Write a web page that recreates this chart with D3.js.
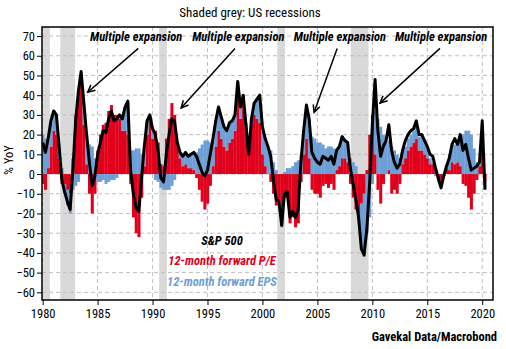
<!DOCTYPE html>
<html>
<head>
<meta charset="utf-8">
<script src="https://cdn.jsdelivr.net/npm/d3@7"></script>
<style>
  body { margin: 0; background: #fff; }
  text { font-family: "Liberation Sans Narrow", "Roboto Condensed", "Lato", sans-serif; }
</style>
</head>
<body>
<div id="chart"></div>
<script>
// quarterly readings, first value is Q1 1980
var startYear = 1980;

// S&P 500, % YoY
var sp500 = [
  16, 11, 18, 27,   32, 30, 14, -3,   -9, -14, -18, 2,   27, 42, 52, 36,
  20, 6, -6, -1,    10, 16, 22, 21,   28, 32, 27, 28,    30, 28, 34, 37,
  2, -10, -17, -19, -2, 14, 27, 30,   23, 20, 12, -2,    -4, 10, 20, 28,
  27, 16, 11, 9,    11, 9, 10, 11,    9, 5, 1, -1,       2, 10, 18, 27,
  34, 29, 24, 22,   26, 27, 30, 47,   34, 40, 25, 10,    28, 36, 38, 40,
  24, 18, 14, 9,    -3, -13, -14, -26, -10, -9, -22, -19, -22, -18, 6, 22,
  35, 28, 11, 8,    6, 5, 9, 8,       7, 9, 5, 12,       14, 19, 17, 16,
  3, -5, -13, -22,  -38, -41, -28, -5, 25, 48, 22, 9,    14, 17, 25, 12,
  6, 3, 5, 12,      17, 20, 22, 23,   27, 20, 20, 17,    14, 10, 9, 3,
  -2, -7, -1, 4,    8, 15, 18, 15,    20, 12, 15, 8,     2, 3, 4, 6,
  27, -8
];

// 12-month forward P/E, contribution in % YoY
var peContrib = [
  -5, -8, 3, 14,    22, 20, 8, -5,    -5, -8, -10, 8,    30, 42, 46, 25,
  5, -10, -20, -10, 12, 20, 25, 26,   32, 35, 30, 30,    28, 22, 22, 20,
  -5, -22, -30, -32, -12, 4, 20, 27,  18, 22, 16, 5,     4, 18, 28, 36,
  30, 16, 8, 4,     5, 3, 3, 2,       -2, -8, -14, -18,  -15, -6, 4, 14,
  22, 18, 14, 12,   16, 18, 22, 38,   28, 36, 24, 10,    26, 30, 28, 26,
  10, 4, 0, -4,     -10, -16, -14, -25, -12, -12, -25, -22, -27, -25, -4, 10,
  18, 8, -8, -10,   -10, -12, -6, -5, -7, -5, -8, 2,     4, 8, 8, 6,
  -5, -12, -18, -22, -15, -10, 2, 20, 30, 10, -8, -15,   -5, 0, 2, -10,
  -8, -10, -5, 5,   8, 12, 14, 16,    18, 12, 12, 10,    8, 5, 5, 2,
  -2, -3, 0, 3,     2, 6, 5, 6,       4, -5, -6, -12,    -18, -10, -3, 4,
  18, -4
];

// 12-month forward EPS, contribution in % YoY
var epsContrib = [
  20, 18, 14, 12,   10, 8, 6, 3,      -5, -8, -10, -8,   -6, -4, 5, 10,
  15, 15, 14, 8,    -4, -4, -3, -5,   -4, -3, -3, -2,    2, 6, 12, 16,
  12, 12, 13, 13,   10, 10, 7, 3,     3, -3, -4, -7,     -8, -8, -8, -6,
  -3, 0, 3, 5,      6, 6, 7, 9,       11, 13, 15, 17,    17, 16, 14, 13,
  12, 11, 10, 10,   10, 9, 8, 8,      6, 4, 2, 0,        2, 6, 10, 14,
  14, 14, 14, 12,   6, 2, -1, -2,     1, 3, 3, 4,        6, 7, 10, 12,
  17, 20, 19, 18,   16, 16, 15, 13,   14, 14, 13, 10,    10, 11, 9, 10,
  8, 6, 4, -2,      -23, -32, -30, -22, -5, 22, 28, 24,  20, 16, 15, 14,
  12, 10, 8, 7,     6, 6, 6, 6,       7, 7, 8, 7,        5, 3, 1, -1,
  -2, -3, -1, 2,    8, 9, 10, 11,     16, 20, 22, 22,    20, 13, 6, 3,
  4, -3
];

// US recessions (start, end) in decimal years
var recessions = [[1980.05, 1980.65], [1981.6, 1982.95], [1990.6, 1991.3], [2001.35, 2002.05], [2008.05, 2009.65]];

var yTicks = [70, 60, 50, 40, 30, 20, 10, 0, -10, -20, -30, -40, -50, -60];
var xTicks = [1980, 1985, 1990, 1995, 2000, 2005, 2010, 2015, 2020];

// arrows: label x (year), arrow start (year) and the point it hits (year, value)
var notes = [
  { label: 1988.5, from: 1988.7, to: [1984.1, 41.5] },
  { label: 1997.8, from: 1997.5, to: [1992.6, 33.5] },
  { label: 2007.05, from: 2006.8, to: [2004.7, 31.3] },
  { label: 2016.25, from: 2016.15, to: [2010.7, 36] }
];

var svgWidth = 506;
var svgHeight = 349;
var margin = { top: 27, right: 13, bottom: 49, left: 42 };
var width = svgWidth - margin.left - margin.right;
var height = svgHeight - margin.top - margin.bottom;

var red = "#e0001b";
var blue = "#6d9fd6";

var svg = d3.select("#chart")
  .append("svg")
  .attr("width", svgWidth)
  .attr("height", svgHeight);

var x = d3.scaleLinear().domain([1979.94, 2020.98]).range([0, width]);
var y = d3.scaleLinear().domain([-63.9, 74.6]).range([height, 0]);

var rows = sp500.map(function(v, i) {
  return { date: startYear + i / 4, sp: v, pe: peContrib[i], eps: epsContrib[i] };
});

// P/E sits next to zero, EPS is stacked on top of it (split by sign)
var stacked = d3.stack()
  .keys(["pe", "eps"])
  .offset(d3.stackOffsetDiverging)(rows);

svg.append("text")
  .attr("x", 250)
  .attr("y", 17)
  .attr("text-anchor", "middle")
  .style("font-size", "13px")
  .text("Shaded grey: US recessions");

svg.append("defs").append("clipPath")
  .attr("id", "plot-clip")
  .append("rect")
  .attr("width", width)
  .attr("height", height);

var chartGroup = svg.append("g")
  .attr("transform", `translate(${margin.left}, ${margin.top})`);

var plot = chartGroup.append("g").attr("clip-path", "url(#plot-clip)");

// recession bands
plot.selectAll(".recession")
  .data(recessions)
  .enter()
  .append("rect")
  .attr("x", d => x(d[0]))
  .attr("width", d => x(d[1]) - x(d[0]))
  .attr("y", 0)
  .attr("height", height)
  .attr("fill", "#d9d9d9");

// dashed grid
plot.selectAll(".hgrid")
  .data(yTicks)
  .enter()
  .append("line")
  .attr("x1", 0).attr("x2", width)
  .attr("y1", d => y(d)).attr("y2", d => y(d))
  .attr("stroke", "#bfbfbf")
  .attr("stroke-dasharray", "4,3");

plot.selectAll(".vgrid")
  .data(xTicks)
  .enter()
  .append("line")
  .attr("y1", 0).attr("y2", height)
  .attr("x1", d => x(d)).attr("x2", d => x(d))
  .attr("stroke", "#bfbfbf")
  .attr("stroke-dasharray", "4,3");

// stacked columns
var barW = x(startYear + 0.25) - x(startYear);
var colors = { pe: red, eps: blue };

plot.selectAll(".layer")
  .data(stacked)
  .enter()
  .append("g")
  .attr("fill", d => colors[d.key])
  .selectAll("rect")
  .data(d => d)
  .enter()
  .append("rect")
  .attr("x", d => x(d.data.date) - barW / 2)
  .attr("width", barW + 0.3)
  .attr("y", d => y(Math.max(d[0], d[1])))
  .attr("height", d => Math.abs(y(d[0]) - y(d[1])));

// S&P 500 line
var line = d3.line()
  .x(d => x(d.date))
  .y(d => y(d.sp));

plot.append("path")
  .datum(rows)
  .attr("d", line)
  .attr("fill", "none")
  .attr("stroke", "#000")
  .attr("stroke-width", 3)
  .attr("stroke-linejoin", "round");

// axes
var leftAxis = d3.axisLeft(y).tickValues(yTicks).tickSize(5).tickPadding(2).tickSizeOuter(0);
var bottomAxis = d3.axisBottom(x).tickValues(xTicks).tickFormat(d3.format("d")).tickSize(5).tickPadding(4).tickSizeOuter(0);

chartGroup.append("g")
  .call(leftAxis)
  .call(g => g.select(".domain").remove())
  .call(g => g.selectAll("text").style("font-size", "12.5px").attr("fill", "#000"));

chartGroup.append("g")
  .attr("transform", `translate(0, ${height})`)
  .call(bottomAxis)
  .call(g => g.select(".domain").remove())
  .call(g => g.selectAll("text").style("font-size", "12.5px").attr("fill", "#000"));

chartGroup.append("rect")
  .attr("width", width)
  .attr("height", height)
  .attr("fill", "none")
  .attr("stroke", "#000")
  .attr("stroke-width", 1.5);

// y axis title
svg.append("text")
  .attr("transform", "translate(13, 160) rotate(-90)")
  .attr("text-anchor", "middle")
  .style("font-size", "12.5px")
  .text("% YoY");

// annotations
var labelY = y(67.3);
notes.forEach(function(n) {
  chartGroup.append("text")
    .attr("x", x(n.label))
    .attr("y", labelY)
    .attr("text-anchor", "middle")
    .style("font-size", "12.5px")
    .style("font-weight", "bold")
    .style("font-style", "italic")
    .text("Multiple expansion");

  var x0 = x(n.from), y0 = labelY + 7;
  var x1 = x(n.to[0]), y1 = y(n.to[1]);
  var ang = Math.atan2(y1 - y0, x1 - x0);
  var len = 8, spread = 0.45;
  var head = [
    [x1 - len * Math.cos(ang - spread), y1 - len * Math.sin(ang - spread)],
    [x1, y1],
    [x1 - len * Math.cos(ang + spread), y1 - len * Math.sin(ang + spread)]
  ];
  chartGroup.append("line")
    .attr("x1", x0).attr("y1", y0)
    .attr("x2", x1).attr("y2", y1)
    .attr("stroke", "#000")
    .attr("stroke-width", 1.5);
  chartGroup.append("path")
    .attr("d", d3.line()(head))
    .attr("fill", "none")
    .attr("stroke", "#000")
    .attr("stroke-width", 1.5);
});

// legend
var legend = [
  { text: "S&P 500", color: "#000", y: 245 },
  { text: "12-month forward P/E", color: red, y: 265 },
  { text: "12-month forward EPS", color: blue, y: 286 }
];
svg.selectAll(".legend")
  .data(legend)
  .enter()
  .append("text")
  .attr("x", 222)
  .attr("y", d => d.y)
  .attr("text-anchor", "middle")
  .attr("fill", d => d.color)
  .style("font-size", "12.5px")
  .style("font-weight", "bold")
  .style("font-style", "italic")
  .text(d => d.text);

svg.append("text")
  .attr("x", 497)
  .attr("y", 341)
  .attr("text-anchor", "end")
  .style("font-size", "12.5px")
  .style("font-weight", "bold")
  .text("Gavekal Data/Macrobond");
</script>
</body>
</html>
